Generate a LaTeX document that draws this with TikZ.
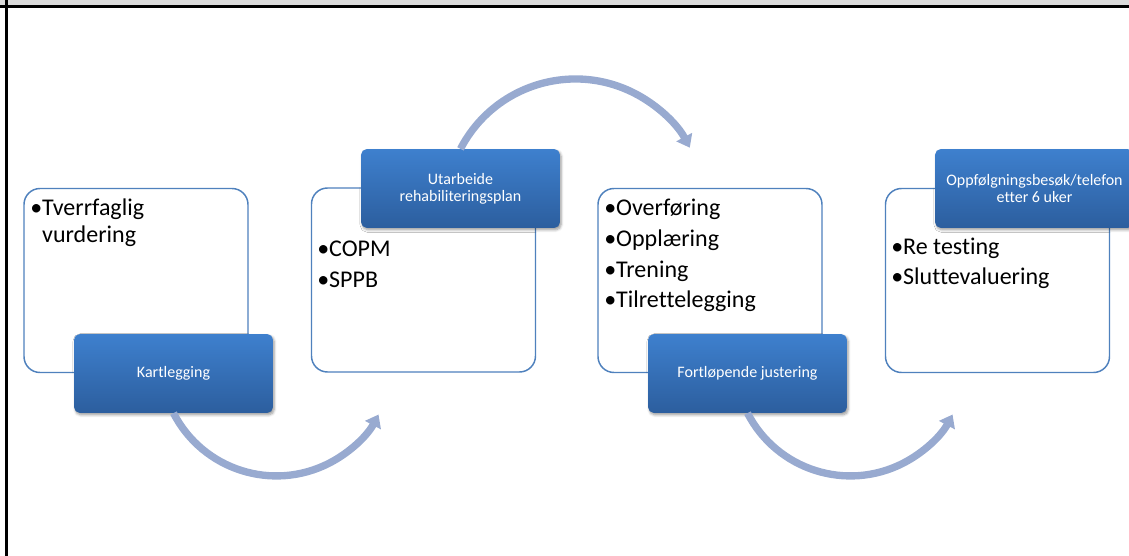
\documentclass[tikz,border=0pt]{standalone}
\usepackage{fontspec}
\setmainfont{Carlito}[Ligatures=NoCommon]
\usetikzlibrary{arrows.meta, shadows.blur}

\definecolor{panelblue}{RGB}{79,129,189}
\definecolor{tagtop}{RGB}{62,128,206}
\definecolor{tagbot}{RGB}{44,94,158}
\definecolor{turncol}{RGB}{152,170,208}

\begin{document}
\begin{tikzpicture}[
    x=0.75pt, y=-0.75pt,
    % --- Step panels ---
    panel/.style={draw=panelblue, line width=1.1pt, rounded corners=12pt,
        fill=white, minimum width=168pt, minimum height=138pt, inner sep=0pt},
    tag/.style={rounded corners=4pt, top color=tagtop, bottom color=tagbot,
        minimum width=149pt, minimum height=59pt, align=center, text=white,
        font=\fontsize{12}{12.75}\selectfont,
        blur shadow={shadow blur steps=5, shadow xshift=1pt, shadow yshift=-1.5pt}},
    item/.style={anchor=base west, inner sep=0pt,
        font=\fontsize{18}{20}\selectfont},
    % --- Curved arrows ---
    turnarrow/.style={-{Triangle[length=9pt, width=13pt]}, line width=5.5pt,
        draw=turncol},
]
\useasboundingbox (0,0) rectangle (1129,556);

% =============================================
%  Frame
% =============================================
\fill[black!14] (0,0) rectangle (1129,6);
\draw[line width=1.9pt] (0,6.5) -- (1129,6.5);
\draw[line width=1.9pt] (6.5,0) -- (6.5,556);

% =============================================
%  Panels
% =============================================
\node[panel] (p1) at (136,280.5) {};
\node[panel] (p2) at (423.5,280) {};
\node[panel] (p3) at (710,280.5) {};
\node[panel] (p4) at (997.5,280.5) {};

% =============================================
%  Panel contents
% =============================================
\node[item] (t1a) at (30,216) {\textbullet Tverrfaglig};
\node[item] (t1b) at (30,243) {\hphantom{\textbullet}vurdering};

\node[item] (t2a) at (317,257) {\textbullet COPM};
\node[item] (t2b) at (317,287) {\textbullet SPPB};

\node[item] (t3a) at (604,216) {\textbullet Overføring};
\node[item] (t3b) at (604,247) {\textbullet Opplæring};
\node[item] (t3c) at (604,277) {\textbullet Trening};
\node[item] (t3d) at (604,307) {\textbullet Tilrettelegging};

\node[item] (t4a) at (891,255) {\textbullet Re testing};
\node[item] (t4b) at (891,285) {\textbullet Sluttevaluering};

% =============================================
%  Step tags
% =============================================
\node[tag] (kart) at (173.5,373.5) {Kartlegging};
\node[tag] (plan) at (460.5,188.5) {Utarbeide\\rehabiliteringsplan};
\node[tag] (fort) at (747.5,373.5) {Fortløpende justering};
\node[tag] (oppf) at (1034.5,188.5) {Oppfølgningsbesøk/telefon\\etter 6 uker};

% =============================================
%  Connections
% =============================================
\draw[turnarrow] (kart.south) arc[start angle=152.8, end angle=28, radius=115.7];
\draw[turnarrow] (plan.north) arc[start angle=207.4, end angle=332, radius=129.5];
\draw[turnarrow] (fort.south) arc[start angle=152.8, end angle=28, radius=115.7];

\end{tikzpicture}
\end{document}
